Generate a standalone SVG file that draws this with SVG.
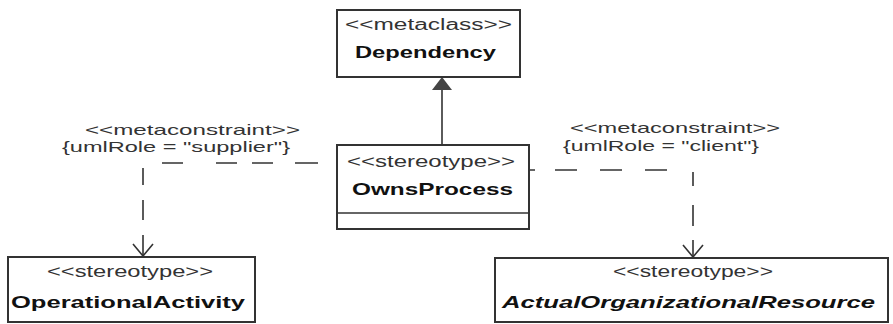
<svg xmlns="http://www.w3.org/2000/svg" width="893" height="324" viewBox="0 0 893 324">
<style>
.box{fill:#fff;stroke:#333;stroke-width:2}
.st{font-family:"Liberation Sans",Arial,sans-serif;font-size:16px;fill:#333}
.nm{font-family:"Liberation Sans",Arial,sans-serif;font-size:17px;font-weight:bold;fill:#111}
.it{font-style:italic}
.ln{fill:none;stroke:#333;stroke-width:1.6}
.lbl{font-family:"Liberation Sans",Arial,sans-serif;font-size:15px;fill:#333}
</style>
<rect width="893" height="324" fill="#fff"/>
<g id="connectors">
  <path class="ln" d="M442,90 V145"/>
  <polygon points="442,77 432,90 452,90" fill="#444"/>
  <path class="ln" d="M318,163 H295 M273,163 H252 M237,163 H216 M183,163 H162 M143,168 V185 M143,200 V220 M143,235 V256"/>
  <polyline class="ln" points="133,244 143,256 153,244"/>
  <path class="ln" d="M529,170 H535 M555,170 H577 M600,170 H622 M645,170 H667 M693,172 V186 M693,205 V226 M693,240 V257"/>
  <polyline class="ln" points="683,245 693,257 703,245"/>
</g>
<g id="label-supplier">
  <text class="lbl" x="85" y="135" textLength="215" lengthAdjust="spacingAndGlyphs">&lt;&lt;metaconstraint&gt;&gt;</text>
  <text class="lbl" x="62" y="152" textLength="228" lengthAdjust="spacingAndGlyphs">{umlRole = "supplier"}</text>
</g>
<g id="label-client">
  <text class="lbl" x="570" y="133" textLength="210" lengthAdjust="spacingAndGlyphs">&lt;&lt;metaconstraint&gt;&gt;</text>
  <text class="lbl" x="563" y="151" textLength="196" lengthAdjust="spacingAndGlyphs">{umlRole = "client"}</text>
</g>
<g id="Dependency">
  <rect class="box" x="337" y="10" width="183" height="67"/>
  <text class="st" x="345" y="30" textLength="167" lengthAdjust="spacingAndGlyphs">&lt;&lt;metaclass&gt;&gt;</text>
  <text class="nm" x="355" y="58" textLength="141" lengthAdjust="spacingAndGlyphs">Dependency</text>
</g>
<g id="OwnsProcess">
  <rect class="box" x="337" y="145" width="192" height="84"/>
  <line class="ln" x1="337" y1="213" x2="529" y2="213" stroke-width="2"/>
  <text class="st" x="347" y="167" textLength="168" lengthAdjust="spacingAndGlyphs">&lt;&lt;stereotype&gt;&gt;</text>
  <text class="nm" x="352" y="195" textLength="161" lengthAdjust="spacingAndGlyphs">OwnsProcess</text>
</g>
<g id="OperationalActivity">
  <rect class="box" x="8" y="257" width="247" height="65"/>
  <text class="st" x="47" y="277" textLength="166" lengthAdjust="spacingAndGlyphs">&lt;&lt;stereotype&gt;&gt;</text>
  <text class="nm" x="11" y="308" textLength="234" lengthAdjust="spacingAndGlyphs">OperationalActivity</text>
</g>
<g id="ActualOrganizationalResource">
  <rect class="box" x="495" y="258" width="393" height="64"/>
  <text class="st" x="613" y="277" textLength="160" lengthAdjust="spacingAndGlyphs">&lt;&lt;stereotype&gt;&gt;</text>
  <text class="nm it" x="502" y="308" textLength="373" lengthAdjust="spacingAndGlyphs">ActualOrganizationalResource</text>
</g>
</svg>
